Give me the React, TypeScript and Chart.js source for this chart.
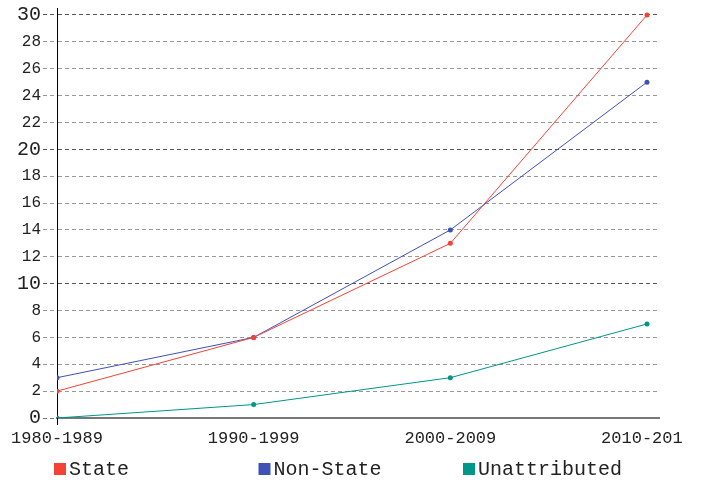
import React, { useEffect, useRef } from "react";
import { Chart, registerables } from "chart.js";

Chart.register(...registerables);

const categories = ["1980-1989", "1990-1999", "2000-2009", "2010-201 "];
const stateValues = [2, 6, 13, 30];
const nonStateValues = [3, 6, 14, 25];
const unattributedValues = [0, 1, 3, 7];
const yTicks = [0, 2, 4, 6, 8, 10, 12, 14, 16, 18, 20, 22, 24, 26, 28, 30];
const seriesNames = ["State", "Non-State", "Unattributed"];
const seriesColors = ["#f44336", "#3f51b5", "#009688"];

const FONT = "'Liberation Mono', 'DejaVu Sans Mono', monospace";

const legendPlugin = {
  id: "customLegend",
  afterDraw(chart: any) {
    const ctx = chart.ctx;
    ctx.save();
    ctx.font = `20px ${FONT}`;
    ctx.textBaseline = "middle";
    ctx.textAlign = "left";
    chart.data.datasets.forEach((ds: any, i: number) => {
      const x = 54 + i * 204.5;
      const y = 469;
      ctx.fillStyle = ds.borderColor;
      ctx.fillRect(x, y - 6, 12, 12);
      ctx.fillStyle = "#222";
      ctx.fillText(ds.label, x + 15, y + 1);
    });
    ctx.restore();
  },
};

export default function App() {
  const ref = useRef<HTMLCanvasElement | null>(null);
  useEffect(() => {
    if (!ref.current) return;
    const toPts = (arr: number[]) => arr.map((v, i) => ({ x: i, y: v }));
    const seriesData = [stateValues, nonStateValues, unattributedValues];
    const chart = new Chart(ref.current, {
      type: "line",
      data: {
        datasets: seriesData.map((arr, i) => ({
          label: seriesNames[i],
          data: toPts(arr),
          borderColor: seriesColors[i],
          backgroundColor: seriesColors[i],
          borderWidth: 1,
          pointRadius: 2.5,
          pointBorderWidth: 0,
          tension: 0,
        })),
      },
      options: {
        animation: false,
        responsive: false,
        maintainAspectRatio: false,
        layout: { padding: { left: 0, top: 7, right: 43, bottom: 37 } },
        plugins: { legend: { display: false }, tooltip: { enabled: false } },
        scales: {
          x: {
            type: "linear",
            min: 0,
            max: 3.061,
            afterBuildTicks: (scale: any) => {
              scale.ticks = categories.map((_, i) => ({ value: i }));
            },
            afterFit: (scale: any) => {
              scale.height = 30;
            },
            ticks: {
              callback: (v: any) => categories[Math.round(Number(v))] ?? "",
              font: { family: FONT, size: 17 },
              color: "#222",
              padding: 3,
              maxRotation: 0,
              autoSkip: false,
            },
            grid: {
              drawOnChartArea: false,
              drawTicks: true,
              tickLength: 7,
              tickColor: (c: any) => (c.tick && c.tick.value === 0 ? "#000" : "rgba(0,0,0,0)"),
            },
            border: { display: true, color: "#777", width: 2 },
          },
          y: {
            min: 0,
            max: 30.52,
            afterBuildTicks: (scale: any) => {
              scale.ticks = yTicks.map((v) => ({ value: v }));
            },
            afterFit: (scale: any) => {
              scale.width = 57;
            },
            ticks: {
              autoSkip: false,
              font: (c: any) => ({
                family: FONT,
                size: c.tick && c.tick.value % 10 === 0 ? 20 : 16,
                lineHeight: 0.6,
              }),
              color: "#222",
              padding: 2,
            },
            grid: {
              color: (c: any) =>
                c.tick && c.tick.value === 0
                  ? "rgba(0,0,0,0)"
                  : c.tick && c.tick.value % 10 === 0
                  ? "#555"
                  : "#999",
              lineWidth: 1,
              drawTicks: true,
              tickLength: 14,
              tickWidth: 1,
              tickColor: (c: any) =>
                c.tick && c.tick.value === 0
                  ? "#777"
                  : c.tick && c.tick.value % 10 === 0
                  ? "#555"
                  : "#999",
              tickBorderDash: [4, 3],
            },
            border: { display: true, color: "#000", width: 1, dash: [4, 3] },
          },
        },
      },
      plugins: [legendPlugin],
    } as any);
    return () => chart.destroy();
  }, []);
  return (
    <div style={{ position: "absolute", left: 0, top: 0, width: 702, height: 485 }}>
      <canvas ref={ref} width={702} height={485} style={{ width: 702, height: 485 }} />
    </div>
  );
}
